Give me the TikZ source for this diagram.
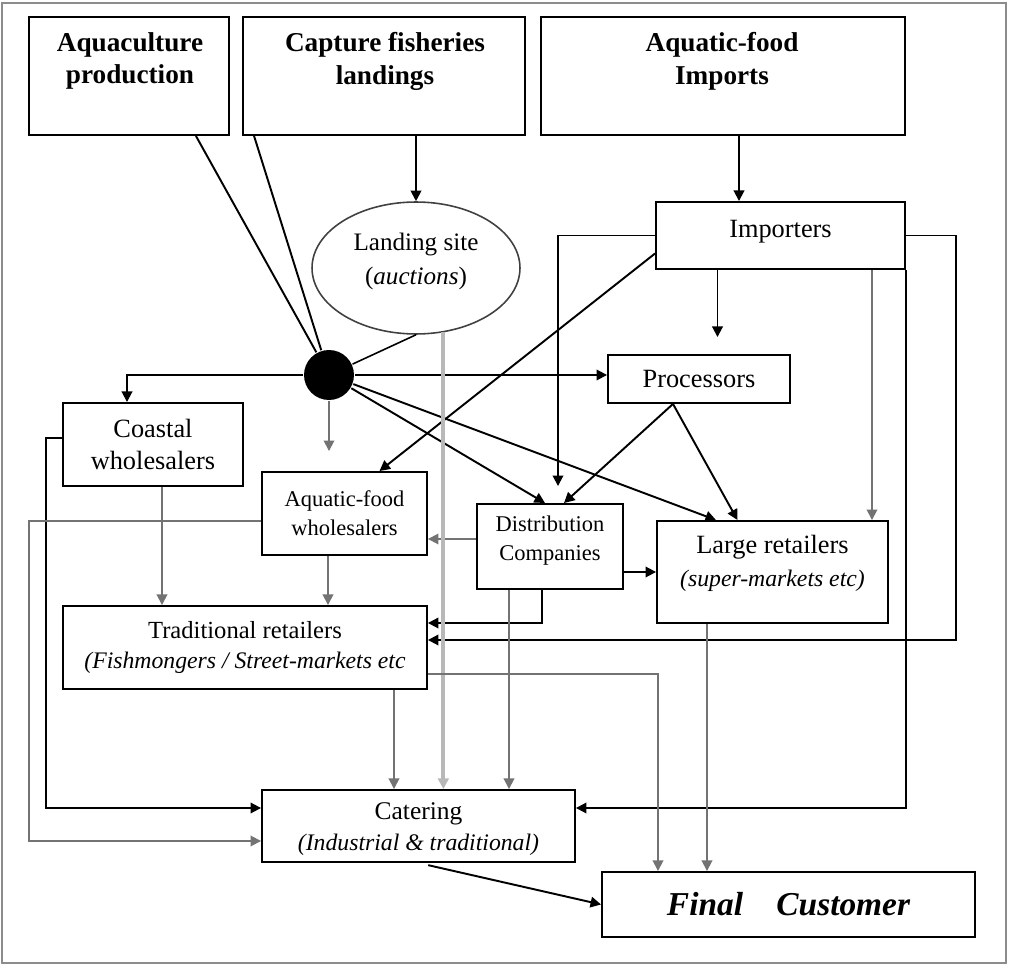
\documentclass[tikz,border=0pt]{standalone}
\usepackage{fontspec}
\setmainfont{Liberation Serif}
\usetikzlibrary{arrows.meta,calc,shapes.geometric}

\begin{document}
\begin{tikzpicture}[x=0.02cm,y=-0.02cm,line width=1.1pt,>={Triangle[length=6pt,width=6pt]},
  box/.style={draw,line width=1.1pt,inner sep=0pt,align=center,font=\fontsize{15}{18.7}\selectfont},
  head/.style={align=center,font=\fontsize{15.5}{18.7}\selectfont\bfseries},
  small/.style={font=\fontsize{12.8}{16.4}\selectfont},
  link/.style={black},
  flow/.style={->,black},
  thin/.style={->,black!55,line width=1pt},
  pale/.style={->,black!28,line width=2.4pt}]
  \useasboundingbox (0,0) rectangle (1009,966);
  \draw[black!45,line width=1.2pt] (2,3) rectangle (1006,963);
  % sources
  \node[box,minimum width=4cm,minimum height=2.36cm] (aqua) at (129,76) {};
  \node[head] (aquaT) at (130,61) {Aquaculture\\production};
  \node[box,minimum width=5.64cm,minimum height=2.36cm] (capture) at (384,76) {};
  \node[head] (captureT) at (385,61) {Capture fisheries\\landings};
  \node[box,minimum width=7.28cm,minimum height=2.36cm] (imports) at (723,76) {};
  \node[head] (importsT) at (722,61) {Aquatic-food\\Imports};
  % intermediaries
  \node[box,ellipse,draw=black!75,line width=0.9pt,minimum width=4.16cm,minimum height=2.64cm,
        font=\fontsize{14.3}{19.3}\selectfont] (landing) at (416,268) {Landing site\\(\textit{auctions})\\[-9pt]};
  \node[box,minimum width=4.98cm,minimum height=1.34cm] (importers) at (780.5,235.5) {Importers\\[-11pt]};
  \node[circle,fill=black,minimum size=1cm,inner sep=0pt] (dot) at (329,375) {};
  \node[box,minimum width=3.64cm,minimum height=0.96cm] (procs) at (699,379) {Processors};
  \node[box,minimum width=3.6cm,minimum height=1.66cm] (coastal) at (153,444.5) {Coastal\\wholesalers};
  \node[box,small,minimum width=3.3cm,minimum height=1.66cm] (afw) at (344.5,513.5) {Aquatic-food\\wholesalers};
  \node[box,small,minimum width=2.92cm,minimum height=1.7cm] (dist) at (550,546.5) {Distribution\\Companies\\[-7pt]};
  \node[box,minimum width=4.62cm,minimum height=2.04cm] (large) at (772.5,572) {Large retailers\\{\fontsize{13.5}{17}\selectfont\itshape(super-markets etc)}\\[-6pt]};
  \node[box,font=\fontsize{14}{17}\selectfont,minimum width=7.28cm,minimum height=1.66cm] (trad) at (245,647.5) {Traditional retailers\\{\fontsize{13.5}{17}\selectfont\itshape(Fishmongers / Street-markets etc}};
  % outlets
  \node[box,font=\fontsize{14.5}{17.6}\selectfont,minimum width=6.26cm,minimum height=1.44cm] (catering) at (418.5,826) {\rule{0pt}{13pt}Catering\\{\fontsize{13.5}{17.6}\selectfont\itshape(Industrial \& traditional)}};
  \node[box,font=\fontsize{19}{22}\selectfont\bfseries\itshape,minimum width=7.46cm,minimum height=1.3cm] (final) at (788.5,904.5) {Final\quad Customer};
  % flows from the sources
  \draw[flow] (capture.south -| landing.north) -- (landing.north);
  \draw[flow] ($(imports.south)+(16,0)$) -- ($(importers.north)+(-41.5,0)$);
  \draw[link] ($(aqua.south east)+(-34,0)$) -- (dot);
  \draw[link] ($(capture.south west)+(12,0)$) -- (dot);
  \draw[link,line width=0.9pt] (landing.south) -- (dot);
  \draw[flow] (dot.west) -| ($(coastal.north)+(-26,0)$);
  \draw[flow] (dot.east) -- (dot.east -| procs.west);
  \draw[thin,shorten >=0.4cm] (dot.south) -- (dot.south |- afw.north);
  \draw[flow] (dot) -- ($(dist.north)+(-5,0)$);
  \draw[flow] (dot) -- ($(large.north)+(-56.5,0)$);
  % importers
  \draw[flow] ($(importers.west)+(0,18)$) -- ($(afw.north)+(35,0)$);
  \draw[flow,shorten >=0.34cm] (importers.west) -| ($(dist.north)+(8,0)$);
  \draw[flow,shorten >=0.34cm] ($(importers.south)+(-63,0)$) coordinate (i1) -- (i1 |- procs.north);
  \draw[thin] ($(importers.south)+(91.5,0)$) coordinate (i2) -- (i2 |- large.north);
  \draw[flow] (importers.east) -- ++(50,0) |- ($(trad.east)+(0,-7.5)$);
  \draw[flow] (importers.south east) |- ($(catering.east)+(0,-18)$);
  % processors and distribution
  \draw[flow] ($(procs.south)+(-26,0)$) -- ($(dist.north)+(14,0)$);
  \draw[flow] ($(procs.south)+(-26,0)$) -- ($(large.north)+(-35,0)$);
  \draw[thin] ($(dist.west)+(0,-7.5)$) coordinate (d1) -- (d1 -| afw.east);
  \draw[flow] (dist.east |- large.west) -- (large.west);
  \draw[flow] ($(dist.south)+(-8,0)$) |- ($(trad.east)+(0,-24.5)$);
  \draw[thin] ($(dist.south)+(-41,0)$) coordinate (d2) -- (d2 |- catering.north);
  \draw[pale] (landing.-67) -- (landing.-67 |- catering.north);
  % wholesalers and retailers
  \draw[thin] ($(coastal.south)+(9,0)$) coordinate (c1) -- (c1 |- trad.north);
  \draw[thin] ($(afw.south)+(-16.5,0)$) coordinate (a1) -- (a1 |- trad.north);
  \draw[flow] ($(coastal.west)+(0,-6.5)$) -- ++(-16,0) |- ($(catering.west)+(0,-18)$);
  \draw[thin] ($(afw.west)+(0,7.5)$) -- ++(-232,0) |- ($(catering.west)+(0,15)$);
  \draw[thin] ($(trad.south)+(149,0)$) coordinate (t1) -- (t1 |- catering.north);
  \draw[thin] ($(trad.east)+(0,26.5)$) -| ($(final.north)+(-130.5,0)$);
  \draw[thin] ($(large.south)+(-65.5,0)$) coordinate (l1) -- (l1 |- final.north);
  \draw[flow,shorten <=0.2cm] (catering.south) -- (final.west);
\end{tikzpicture}
\end{document}
